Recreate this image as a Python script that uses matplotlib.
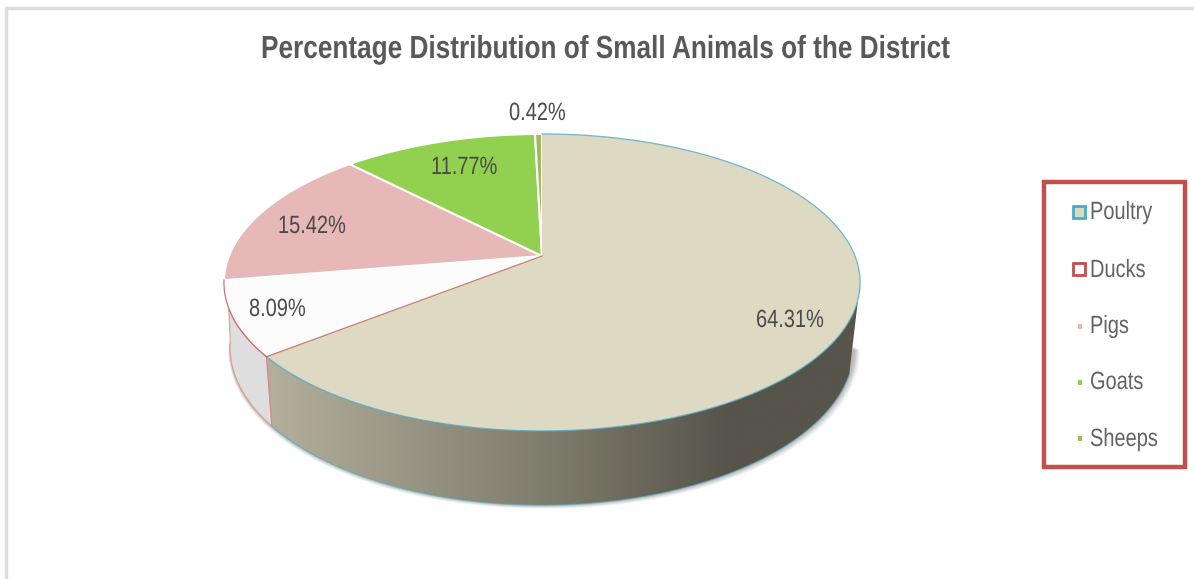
import numpy as np
import matplotlib
matplotlib.use("Agg")
import matplotlib.pyplot as plt
from matplotlib.patches import Polygon, Rectangle
from matplotlib.patheffects import AbstractPathEffect
from matplotlib.transforms import Affine2D
from matplotlib.colors import LinearSegmentedColormap

categories = ["Poultry", "Ducks", "Pigs", "Goats", "Sheeps"]
values = [64.31, 8.09, 15.42, 11.77, 0.42]
labels = ["64.31%", "8.09%", "15.42%", "11.77%", "0.42%"]
title = "Percentage Distribution of Small Animals of the District"

face_colors = ["#ddd9c3", "#fcfcfc", "#e6b8b7", "#92d050", "#9bbb59"]
edge_colors = ["#4bacc6", "#c0504d", "#ffffff", "#ffffff", "#ffffff"]
label_pos = [(756, 327), (249, 316), (278, 233), (431, 174), (509, 120)]
legend_baselines = [219, 277, 333, 389, 446]
legend_marker_y = [212, 269, 326, 382, 438]


class Narrow(AbstractPathEffect):
    """Draw the text's glyphs condensed horizontally, as no narrow font is installed."""

    def __init__(self, sx):
        super().__init__()
        self.sx = sx

    def draw_path(self, renderer, gc, tpath, affine, rgbFace=None):
        renderer.draw_path(gc, tpath, Affine2D().scale(self.sx, 1) + affine, rgbFace)


narrow = ["Liberation Sans", "DejaVu Sans"]

W, H = 1194, 579
fig = plt.figure(figsize=(W / 100, H / 100), dpi=100, facecolor="white")
ax = fig.add_axes([0, 0, 1, 1])
ax.set_xlim(0, W)
ax.set_ylim(H, 0)
ax.axis("off")

# frame
ax.plot([6, 6, 1194], [579, 8, 8], color="#dcdcdc", lw=2.5, solid_joinstyle="miter")

K = 0.178


def top(theta):
    t = np.radians(theta)
    d = 1 + K * np.cos(t)
    return np.c_[542 + 313 * np.sin(t) / d, 256 - 143.8 * np.cos(t) / d]


def bottom(theta):
    t = np.radians(theta)
    d = 1 + K * np.cos(t)
    return np.c_[542 + 307 * np.sin(t) / d, 319 - 153 * np.cos(t) / d]


bounds = np.cumsum([0] + values) / sum(values) * 360
end0, end1 = bounds[1], bounds[2]

# soft shadow, stronger towards the right
shadow_arc = bottom(np.linspace(100, 262, 200))
for d, a in [(6, .04), (5, .05), (4, .06), (3, .07), (2, .08), (1, .08)]:
    pts = shadow_arc + [0, d * .6]
    pts[:, 0] += np.where(pts[:, 0] > 542, d, -d * .3)
    ax.add_patch(Polygon(pts, closed=True, fc="#303030", ec="none", alpha=a, zorder=1))

# side of the first slice, shaded from left to right
side = np.r_[top(np.linspace(100, end0, 150)), bottom(np.linspace(end0, 110, 150))]
cmap = LinearSegmentedColormap.from_list(
    "side", [(0, "#b3af9c"), (.25, "#979483"), (.5, "#7b7969"), (.72, "#5e5b51"), (.78, "#57544b"), (1, "#57544b")])
im = ax.imshow(np.linspace(0, 1, 256)[None, :], cmap=cmap, extent=(268, 860, 520, 200),
               aspect="auto", zorder=2)
im.set_clip_path(Polygon(side, closed=True, transform=ax.transData))
ax.set_xlim(0, W)
ax.set_ylim(H, 0)
ax.plot(*bottom(np.linspace(end0, 110, 150)).T, color="#4bacc6", lw=.9, alpha=.6, zorder=3)

# side of the second slice
side2 = np.r_[top(np.linspace(end0, 250, 60)), bottom(np.linspace(262, end0, 60))]
ax.add_patch(Polygon(side2, closed=True, fc="#dedede", ec="#dc9a98", lw=.8, zorder=3))
ax.plot(*np.r_[top([end0]), bottom([end0])].T, color="#d58a88", lw=.8, zorder=3.5)

# top faces
apex = np.array([[542.0, 256.0]])
order = [1, 2, 3, 4, 0]
for i in order:
    a, b = bounds[i], bounds[i + 1]
    arc = top(np.linspace(a, b, 200))
    ax.add_patch(Polygon(np.r_[apex, arc], closed=True, fc=face_colors[i],
                         ec="#ffffff" if i >= 2 else "none", lw=1.5, joinstyle="miter", zorder=4))
    if i < 2:
        ax.plot(*arc.T, color=edge_colors[i], lw=.9, alpha=.8, zorder=5)
ax.plot(*np.r_[apex, top([end0])].T, color="#c0504d", lw=.9, alpha=.7, zorder=5)

for txt, (x, y) in zip(labels, label_pos):
    ax.text(x, y, txt, ha="left", va="baseline", fontsize=18, family=narrow, color="#4a4a4a",
            zorder=6, path_effects=[Narrow(.80)])

ax.text(261, 58, title, ha="left", va="baseline", fontsize=23, fontweight="bold",
        family=narrow, color="#595959", path_effects=[Narrow(.82)])

# legend
ax.add_patch(Rectangle((1044, 182), 141, 285, fc="white", ec="#c0504d", lw=3.2, zorder=2))
for i, (name, yb, ym) in enumerate(zip(categories, legend_baselines, legend_marker_y)):
    if i < 2:
        ax.add_patch(Rectangle((1073, ym - 6), 12, 12, fc=face_colors[i], ec=edge_colors[i], lw=2, zorder=3))
    else:
        ax.add_patch(Rectangle((1077.5, ym - 2), 4.5, 4.5, fc=face_colors[i], ec="none", zorder=3))
    ax.text(1090, yb, name, ha="left", va="baseline", fontsize=18, family=narrow, color="#636363",
            zorder=3, path_effects=[Narrow(.80)])

fig.savefig("out.png", dpi=100, facecolor="white")
